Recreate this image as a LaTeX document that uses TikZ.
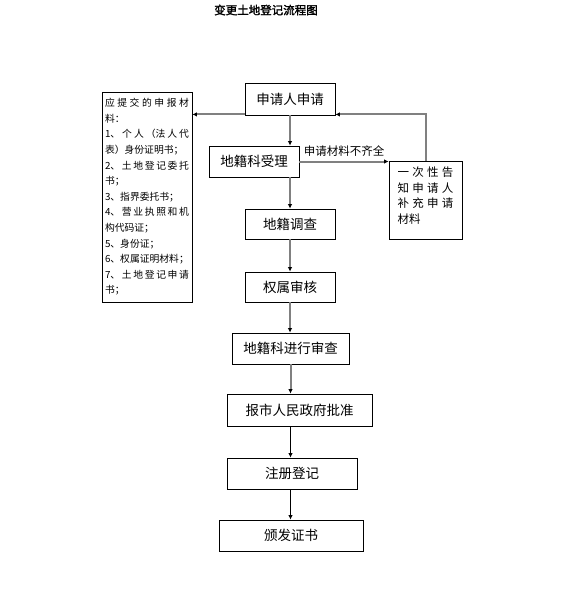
\documentclass[tikz,border=0pt]{standalone}
\usepackage{fontspec}
\setmainfont{Noto Sans CJK SC}
\newfontfamily\titlefont[FakeBold=2]{Noto Sans CJK SC}
\XeTeXlinebreaklocale "zh"
\XeTeXlinebreakskip=0pt plus 3pt
\usetikzlibrary{arrows.meta, positioning}
\definecolor{linegray}{gray}{0.5}
\tikzset{
  box/.style = {rectangle, draw=black, line width=0.8pt, inner sep=2pt,
                font=\fontsize{13.5}{16}\selectfont},
  note/.style = {rectangle, draw=black, line width=0.8pt, align=justify},
  arr/.style = {-{Latex[length=4.5pt,width=4.5pt,color=black]}, draw=linegray, line width=2pt},
  arrk/.style = {-{Latex[length=4.5pt,width=4.5pt]}, draw=black, line width=0.9pt}
}

\begin{document}
\begin{tikzpicture}[x=1pt, y=-1pt]
\useasboundingbox (0,0) rectangle (569,590);

% Title
\node[font=\titlefont\fontsize{11.5}{14}\selectfont] (title) at (266,10) {变更土地登记流程图};

% Main column
\node[box, minimum width=90pt, minimum height=32pt] (sq) at (290,99) {申请人申请};
\node[box, minimum width=90pt, minimum height=31pt] (sl) at (254,161.5) {地籍科受理};
\node[box, minimum width=90pt, minimum height=30pt] (dc) at (290,224) {地籍调查};
\node[box, minimum width=90pt, minimum height=30pt] (qs) at (290,287) {权属审核};
\node[box, minimum width=117pt, minimum height=31pt] (sc) at (290.5,348.5) {地籍科进行审查};
\node[box, minimum width=145pt, minimum height=32pt] (bp) at (299.5,410) {报市人民政府批准};
\node[box, minimum width=130pt, minimum height=31pt] (zc) at (292,473.5) {注册登记};
\node[box, minimum width=144pt, minimum height=31pt] (bf) at (291,535.5) {颁发证书};

% Side boxes
\node[note, text width=84pt, inner xsep=3pt, minimum height=210pt,
      font=\fontsize{9.8}{15.6}\selectfont] (cl) at (147,197) {%
应提交的申报材\linebreak 料：\\
1、个人（法人代\linebreak 表）身份证明书；\\
2、土地登记委托\linebreak 书；\\
3、指界委托书；\\
4、营业执照和机\linebreak 构代码证；\\
5、身份证；\\
6、权属证明材料；\\
7、土地登记申请\linebreak 书；};
\node[note, text width=56pt, inner xsep=8.5pt, minimum height=78pt,
      font=\fontsize{11.5}{15.5}\selectfont] (tz) at (425.5,200) {%
一次性告\linebreak 知申请人\linebreak 补充申请\linebreak 材料\rule[-10pt]{0pt}{1pt}};

% ----- ARROWS -----
\coordinate (lk) at ([yshift=1pt]sq.south west);
\coordinate (rk) at ([yshift=1pt]sq.south east);
% to list of materials
\draw[arr] (lk) -- (lk -| cl.east);
% main flow
\draw[arr] (sq.south) -- (sl.north -| sq.south);
\draw[arr] (sl.south -| dc.north) -- (dc.north);
\draw[arr] (dc.south) -- (qs.north);
\draw[arr] (qs.south) -- (qs.south |- sc.north);
\draw[arr] (sc.south) -- (sc.south |- bp.north);
\draw[arrk] (bp.south -| sc.south) -- (zc.north -| sc.south);
\draw[arrk] (zc.south -| sc.south) -- (bf.north -| sc.south);
% incomplete materials loop
\draw[arr] (sl.east) -- (sl.east -| tz.west)
  node[midway, above, inner sep=4pt, font=\fontsize{11.5}{14}\selectfont] {申请材料不齐全};
\draw[arr] (tz.north) |- (rk);

\end{tikzpicture}
\end{document}
